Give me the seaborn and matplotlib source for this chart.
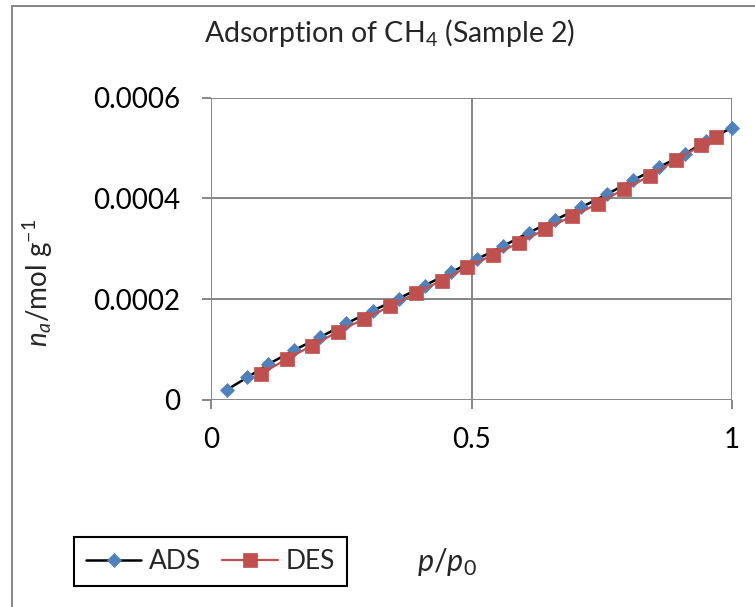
import numpy as np
import pandas as pd
import seaborn as sns
import matplotlib
matplotlib.use("Agg")
import matplotlib.pyplot as plt
from matplotlib.patches import Rectangle

# ---- data ----
ads_x = [0.03, 0.07, 0.11, 0.16, 0.21, 0.26, 0.31, 0.36, 0.41, 0.46, 0.51,
         0.56, 0.61, 0.66, 0.71, 0.76, 0.81, 0.86, 0.91, 0.95, 1.0]
ads_y = [2.0e-5, 4.5e-5, 7.1e-5, 9.9e-5, 1.25e-4, 1.52e-4, 1.77e-4, 2.01e-4,
         2.27e-4, 2.53e-4, 2.79e-4, 3.05e-4, 3.32e-4, 3.57e-4, 3.82e-4,
         4.08e-4, 4.36e-4, 4.62e-4, 4.88e-4, 5.14e-4, 5.40e-4]
des_x = [0.096, 0.145, 0.194, 0.243, 0.294, 0.344, 0.393, 0.443, 0.492, 0.542,
         0.592, 0.642, 0.692, 0.742, 0.792, 0.842, 0.892, 0.941, 0.969]
des_y = [5.2e-5, 8.1e-5, 1.08e-4, 1.35e-4, 1.61e-4, 1.86e-4, 2.12e-4, 2.37e-4,
         2.64e-4, 2.88e-4, 3.12e-4, 3.39e-4, 3.64e-4, 3.89e-4, 4.18e-4,
         4.44e-4, 4.76e-4, 5.05e-4, 5.22e-4]
series_names = ["ADS", "DES"]
x_ticks = [0, 0.5, 1]
x_tick_labels = ["0", "0.5", "1"]
y_ticks = [0, 0.0002, 0.0004, 0.0006]
y_tick_labels = ["0", "0.0002", "0.0004", "0.0006"]
title = "Adsorption of CH$_4$ (Sample 2)"
ylabel = r"$n_a$/mol g$^{-1}$"
xlabel = r"$p/p_\mathrm{0}$"

ads_df = pd.DataFrame({"x": ads_x, "y": ads_y})
des_df = pd.DataFrame({"x": des_x, "y": des_y})

sns.set_theme(style="white")
plt.rcParams["font.family"] = ["Lato", "DejaVu Sans"]
plt.rcParams["mathtext.fontset"] = "custom"
plt.rcParams["mathtext.rm"] = "Lato"
plt.rcParams["mathtext.it"] = "Lato:italic"
plt.rcParams["mathtext.bf"] = "Lato:bold"

W, H = 755, 607
fig = plt.figure(figsize=(W / 100, H / 100), dpi=100)
fig.patch.set_facecolor("white")
ax = fig.add_axes([211 / W, 1 - 400 / H, (732 - 211) / W, (400 - 97.5) / H])

grid_c = "#868686"
ax.set_xlim(0, 1)
ax.set_ylim(0, 0.0006)
ax.set_xticks(x_ticks)
ax.set_xticklabels(x_tick_labels)
ax.set_yticks(y_ticks)
ax.set_yticklabels(y_tick_labels)
ax.grid(True, color=grid_c, linewidth=1.4)
for s in ax.spines.values():
    s.set_visible(False)
ax.tick_params(axis="both", which="major", length=6.5, width=1.4, color=grid_c,
               labelsize=20, labelcolor="black", direction="out")
ax.tick_params(axis="y", pad=15.5, left=True)
ax.tick_params(axis="x", pad=13, bottom=True)
ax.set_axisbelow(True)

sns.lineplot(data=ads_df, x="x", y="y", ax=ax, color="black", linewidth=1.8,
             marker="D", markersize=7.6, markerfacecolor="#4F81BD",
             markeredgecolor="#4F81BD", markeredgewidth=0.5, sort=False,
             label=series_names[0], clip_on=False, zorder=3)
sns.lineplot(data=des_df, x="x", y="y", ax=ax, color="#C0504D", linewidth=1.6,
             marker="s", markersize=10, markerfacecolor="#C0504D",
             markeredgecolor="#C0504D", markeredgewidth=0.5, sort=False,
             label=series_names[1], clip_on=False, zorder=4)
ax.set_xlabel("")
ax.set_ylabel("")

fig.text(390 / W, 1 - 33 / H, title, ha="center", va="center", fontsize=20.5)
fig.text(38 / W, 1 - 283 / H, ylabel, ha="center", va="center", rotation=90,
         fontsize=20)
fig.text(447 / W, 1 - 562 / H, xlabel, ha="center", va="center", fontsize=22)

leg = ax.legend(loc="upper left", bbox_to_anchor=(74 / W, 1 - 537 / H),
                bbox_transform=fig.transFigure, ncol=2, borderaxespad=0,
                fancybox=False, edgecolor="black", framealpha=1, fontsize=19,
                handlelength=2.1, handletextpad=0.3, columnspacing=0.8,
                borderpad=0.45)
leg.get_frame().set_linewidth(1.5)

# outer chart-area frame
fig.patches.append(Rectangle((12 / W, -0.1), 1.2, 1 - 6 / H + 0.1,
                             transform=fig.transFigure, fill=False,
                             edgecolor=grid_c, linewidth=1.4, zorder=0))

fig.savefig("out.png", dpi=100, facecolor="white")
